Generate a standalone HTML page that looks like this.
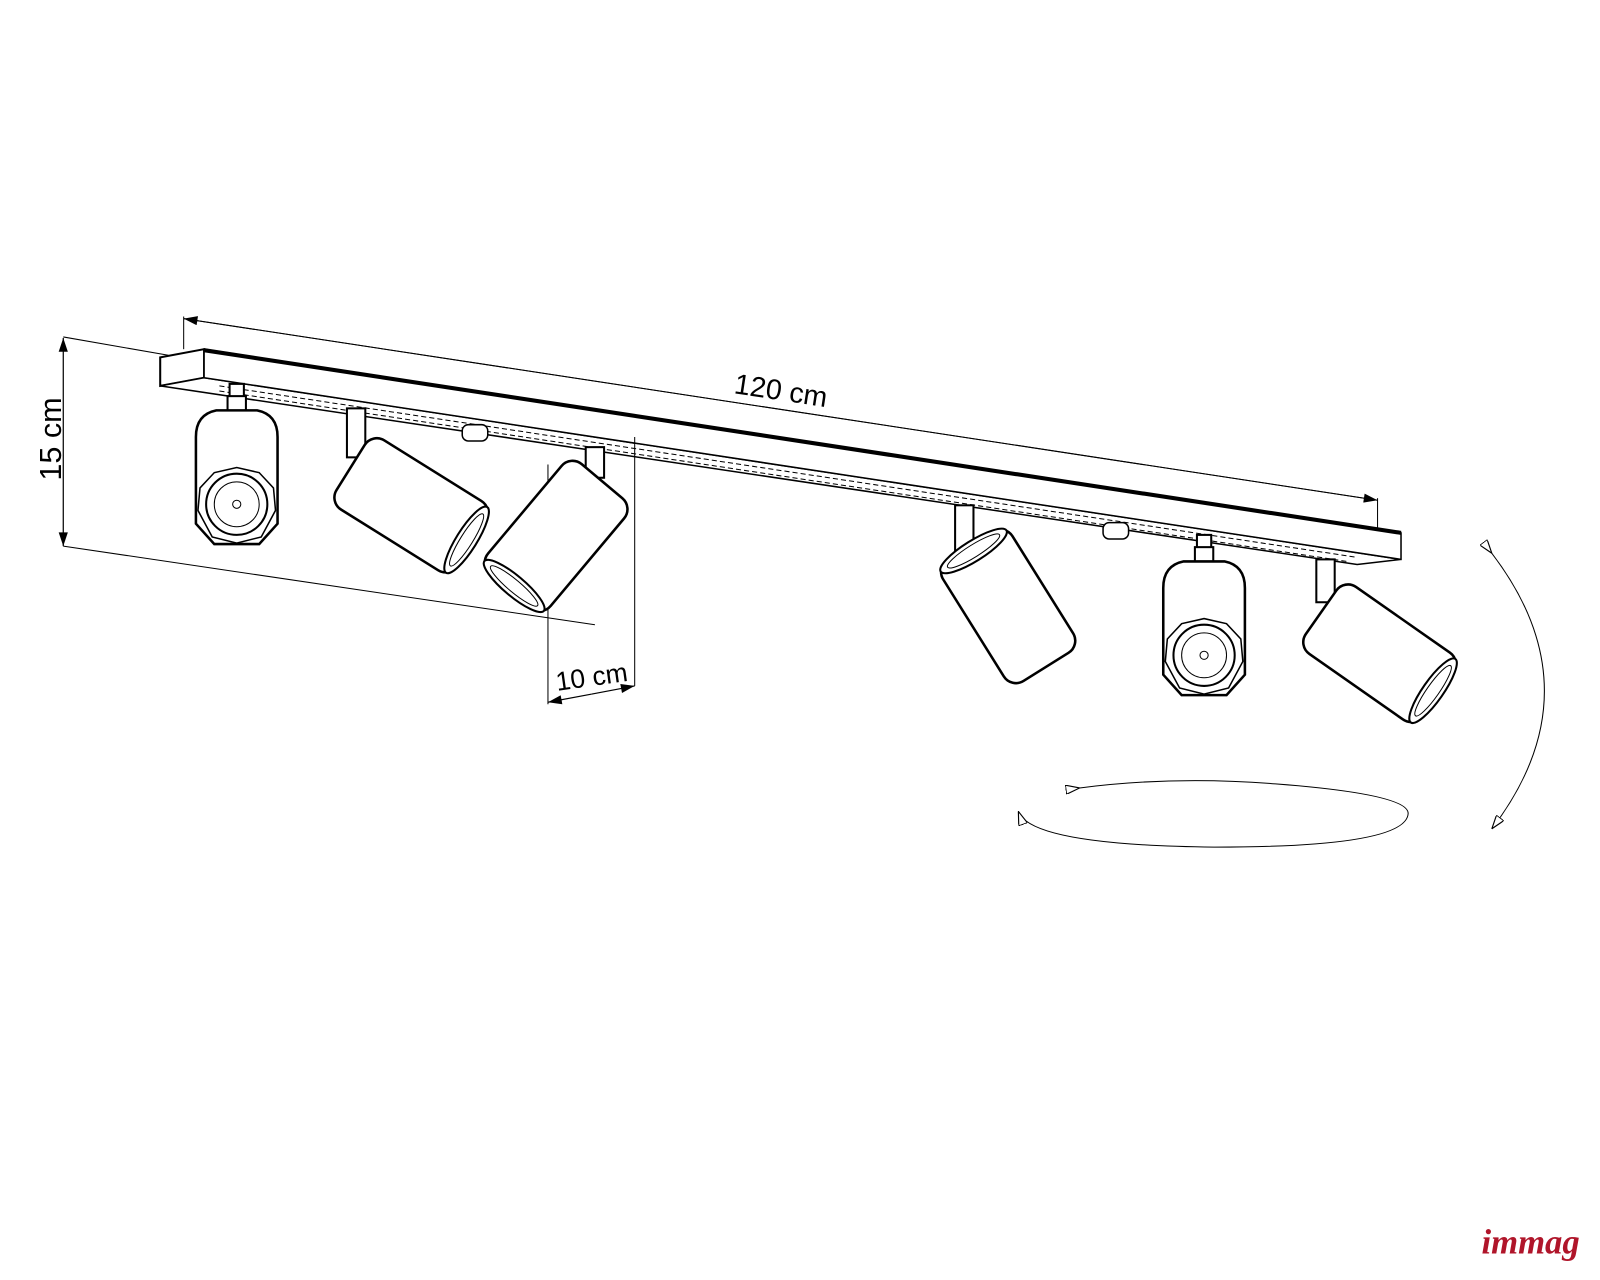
<!DOCTYPE html>
<html><head><meta charset="utf-8"><style>
html,body{margin:0;padding:0;background:#fff;width:1600px;height:1280px;overflow:hidden}
svg{display:block}
</style></head><body>
<svg width="1600" height="1280" viewBox="0 0 1568 1254" xmlns="http://www.w3.org/2000/svg">
<defs>
<marker id="a" viewBox="0 0 12 8" refX="12" refY="4" markerWidth="14" markerHeight="9" orient="auto" markerUnits="userSpaceOnUse"><path d="M0,0L12,4L0,8z" fill="#000"/></marker>
<marker id="o" viewBox="0 0 12 8" refX="12" refY="4" markerWidth="14" markerHeight="9" orient="auto" markerUnits="userSpaceOnUse"><path d="M0,0L12,4L0,8z" fill="#fff" stroke="#000" stroke-width="1"/></marker>
<g id="vlamp">
 <rect x="-7" y="-82" width="14" height="14" fill="#fff" stroke="#000" stroke-width="2"/>
 <rect x="-9" y="-70" width="18" height="18" fill="#fff" stroke="#000" stroke-width="2"/>
 <path d="M-40,-20 L-40,-30 Q-40,-52 -20,-56 L20,-56 Q40,-52 40,-30 L40,55 L22,75 L-22,75 L-40,55 Z" fill="#fff" stroke="#000" stroke-width="2.5"/>
 <polygon points="-36,20 -22,5 0,0 22,5 36,20 38,42 24,68 0,74 -24,68 -38,42" fill="none" stroke="#000" stroke-width="1.5"/>
 <circle cx="0" cy="36" r="30" fill="none" stroke="#000" stroke-width="2"/>
 <circle cx="0" cy="36" r="22" fill="none" stroke="#000" stroke-width="1"/>
 <circle cx="0" cy="36" r="4" fill="none" stroke="#000" stroke-width="1"/>
</g>
<g id="tlamp">
 <rect x="-40" y="-70" width="80" height="140" rx="14" fill="#fff" stroke="#000" stroke-width="2.5"/>
 <ellipse cx="0" cy="64" rx="38" ry="10" fill="#fff" stroke="#000" stroke-width="2"/>
 <ellipse cx="0" cy="64" rx="30" ry="6" fill="none" stroke="#000" stroke-width="1"/>
</g>
</defs>
<g fill="none" stroke="#000">
 <polygon points="157,350 200,342 200,370 157,378" fill="#fff" stroke-width="2"/>
 <polygon points="157,378 200,370 1373,548 1330,553" fill="#fff" stroke-width="1.5"/>
 <polygon points="200,342 1373,522 1373,548 200,370" fill="#fff" stroke-width="1.5"/>
 <line x1="200" y1="343" x2="1373" y2="522" stroke-width="4"/>
 <line x1="215" y1="378" x2="1330" y2="546" stroke-width="1" stroke-dasharray="5,3"/>
 <line x1="215" y1="383" x2="1320" y2="550" stroke-width="1" stroke-dasharray="5,3"/>
 <line x1="180" y1="310" x2="180" y2="342" stroke-width="1"/>
 <line x1="1350" y1="488" x2="1350" y2="518" stroke-width="1"/>
 <line x1="1350" y1="490" x2="180" y2="312" stroke-width="1" marker-end="url(#a)"/>
 <line x1="180" y1="312" x2="1350" y2="490" stroke-width="1" marker-end="url(#a)"/>
 <line x1="62" y1="330" x2="165" y2="348" stroke-width="1"/>
 <line x1="62" y1="535" x2="583" y2="612" stroke-width="1"/>
 <line x1="62" y1="430" x2="62" y2="331" stroke-width="1.2" marker-end="url(#a)"/>
 <line x1="62" y1="430" x2="62" y2="535" stroke-width="1.2" marker-end="url(#a)"/>
 <line x1="537" y1="455" x2="537" y2="690" stroke-width="1"/>
 <line x1="622" y1="428" x2="622" y2="672" stroke-width="1"/>
 <line x1="580" y1="680" x2="537" y2="688" stroke-width="1.2" marker-end="url(#a)"/>
 <line x1="580" y1="680" x2="622" y2="672" stroke-width="1.2" marker-end="url(#a)"/>
 <rect x="453" y="416" width="25" height="16" rx="6" fill="#fff" stroke-width="1.5"/>
 <rect x="1081" y="512" width="25" height="16" rx="6" fill="#fff" stroke-width="1.5"/>
 <rect x="340" y="400" width="18" height="48" fill="#fff" stroke-width="2"/>
 <rect x="574" y="438" width="18" height="30" fill="#fff" stroke-width="2"/>
 <rect x="936" y="495" width="18" height="52" fill="#fff" stroke-width="2"/>
 <rect x="1290" y="548" width="18" height="42" fill="#fff" stroke-width="2"/>
</g>
<use href="#vlamp" transform="translate(232,458)"/>
<use href="#vlamp" transform="translate(1180,606)"/>
<use href="#tlamp" transform="translate(403,495) rotate(-58)"/>
<use href="#tlamp" transform="translate(545,525) rotate(40)"/>
<use href="#tlamp" transform="translate(988,594) rotate(148)"/>
<use href="#tlamp" transform="translate(1352,640) rotate(-55)"/>
<g fill="none" stroke="#000" stroke-width="1">
 <path d="M1462,542 Q1565,677 1462,812" marker-start="url(#o)" marker-end="url(#o)"/>
 <path d="M1058,772 Q1150,760 1250,768 Q1380,778 1380,797 Q1378,830 1190,830 Q1010,828 998,795" marker-start="url(#o)" marker-end="url(#o)"/>
</g>
<g font-family="Liberation Sans, sans-serif" font-size="26" fill="#000">
 <text x="765" y="392" text-anchor="middle" transform="rotate(8.6 765 385)" font-size="28">120 cm</text>
 <text x="50" y="440" text-anchor="middle" transform="rotate(-90 50 430)" font-size="30">15 cm</text>
 <text x="580" y="672" text-anchor="middle" transform="rotate(-8 580 665)" font-size="26">10 cm</text>
</g>
<text x="1500" y="1228" text-anchor="middle" font-family="Liberation Serif, serif" font-style="italic" font-weight="bold" font-size="34" fill="#b0152a">immag</text>
</svg>
</body></html>
